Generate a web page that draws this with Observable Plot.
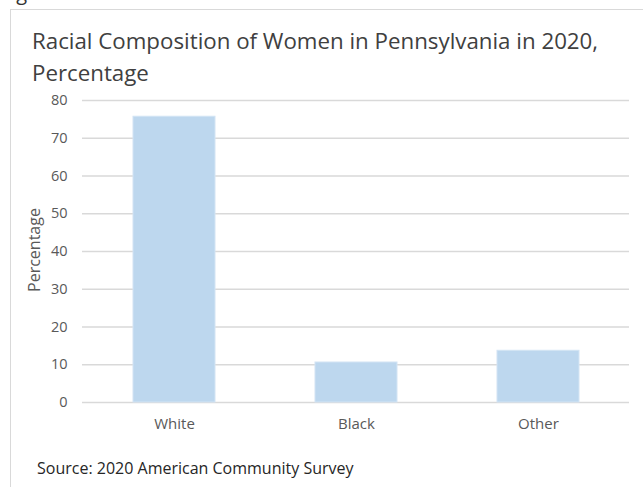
<!DOCTYPE html>
<html>
<head>
<meta charset="utf-8">
<script src="https://cdn.jsdelivr.net/npm/d3@7"></script>
<script src="https://cdn.jsdelivr.net/npm/@observablehq/plot@0.6"></script>
<style>
html, body { margin: 0; padding: 0; background: #fff; overflow: hidden; }
#wrap { position: relative; width: 643px; height: 487px; overflow: hidden; font-family: "Open Sans", sans-serif; }
#fig { position: absolute; left: 1px; top: -21px; font-size: 20px; line-height: 28px; color: #333; white-space: nowrap; }
#frame { position: absolute; left: 10px; top: 9px; width: 800px; height: 600px; border-left: 1.5px solid #d9d9d9; border-top: 1.5px solid #d9d9d9; }
#title { position: absolute; left: 32px; top: 25px; font-size: 22.3px; line-height: 32px; color: #404040; white-space: nowrap; }
#chart { position: absolute; left: 0; top: 88px; }
#ylabel { position: absolute; left: 34px; top: 250px; transform: translate(-50%, -50%) rotate(-90deg); font-size: 16px; line-height: 1; color: #595959; white-space: nowrap; }
#source { position: absolute; left: 37px; top: 457px; font-size: 16px; line-height: 22px; color: #262626; white-space: nowrap; }
</style>
</head>
<body>
<div id="wrap">
  <div id="fig">Figure 3</div>
  <div id="frame"></div>
  <div id="title">Racial Composition of Women in Pennsylvania in 2020,<br>Percentage</div>
  <div id="chart"></div>
  <div id="ylabel">Percentage</div>
  <div id="source">Source: 2020 American Community Survey</div>
</div>
<script>
const categories = ["White", "Black", "Other"];
const values = [75.7, 10.6, 13.7];
const yTicks = [0, 10, 20, 30, 40, 50, 60, 70, 80];

const data = categories.map((c, i) => ({ category: c, value: values[i] }));

const chart = Plot.plot({
  width: 643,
  height: 360,
  marginLeft: 82,
  marginRight: 14,
  marginTop: 12,
  marginBottom: 46,
  style: { fontFamily: "Open Sans, sans-serif", background: "transparent", color: "#595959", overflow: "visible" },
  x: { domain: categories, paddingInner: 0.55, paddingOuter: 0.275 },
  y: { domain: [0, 80] },
  marks: [
    Plot.gridY(yTicks, { stroke: "#d9d9d9", strokeOpacity: 1, strokeWidth: 1.5 }),
    Plot.barY(data, { x: "category", y: "value", fill: "#bdd7ee", stroke: "#d3e4f4", strokeWidth: 1 }),
    Plot.axisX({ tickSize: 0, tickPadding: 16, fontSize: 15, label: null }),
    Plot.axisY({ ticks: yTicks, tickSize: 0, tickPadding: 15, fontSize: 14.5, label: null })
  ]
});
document.getElementById("chart").appendChild(chart);
</script>
</body>
</html>
